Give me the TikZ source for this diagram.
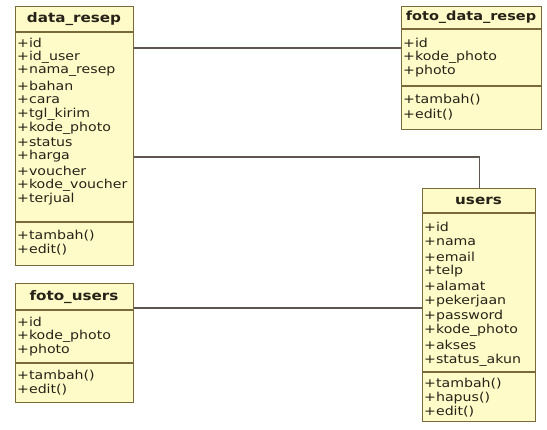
\documentclass[tikz,border=0pt]{standalone}
\usepackage{fontspec}
\newfontfamily\umlfont[FakeStretch=1.15]{DejaVu Sans}
\definecolor{classfill}{HTML}{FEFBC8}
\definecolor{classedge}{HTML}{7A6A3A}
\definecolor{linkgray}{HTML}{5E5650}
\definecolor{inktext}{HTML}{262218}
\tikzset{
  classbox/.style={draw=classedge, fill=classfill, line width=1.4pt, inner sep=0pt, anchor=north west},
  compart/.style={draw=classedge, line width=1.2pt},
  classtitle/.style={font=\umlfont\bfseries\fontsize{13.2}{15}\selectfont, text=inktext, inner sep=0pt},
  member/.style={font=\umlfont\fontsize{12.3}{14}\selectfont, text=inktext, anchor=west, inner sep=0pt},
  assoc/.style={draw=linkgray, line width=1.1pt}
}
\begin{document}
\begin{tikzpicture}[x=1pt, y=-1pt]
\useasboundingbox[fill=white] (0,0) rectangle (547,430);

% ---------- data_resep ----------
\node[classbox, minimum width=118pt, minimum height=259pt] (dr) at (15,6) {};
\draw[compart] (15,32) -- (133,32);
\draw[compart] (15,222) -- (133,222);
\node[classtitle] (drt) at (74,19) {data\_resep};
\foreach \t [count=\i] in {+id,+id\_user,+nama\_resep,+bahan,+cara,+tgl\_kirim,+kode\_photo,+status,+harga,+voucher,+kode\_voucher,+terjual}
  \node[member] (dra\i) at (17,{43+14.2*(\i-1)}) {\t};
\foreach \t [count=\i] in {+tambah(),+edit()}
  \node[member] (drm\i) at (17,{236+14*(\i-1)}) {\t};

% ---------- foto_data_resep ----------
\node[classbox, minimum width=140pt, minimum height=123pt] (fdr) at (401,6) {};
\draw[compart] (401,29) -- (541,29);
\draw[compart] (401,86) -- (541,86);
\node[classtitle, font=\umlfont\bfseries\fontsize{12.6}{15}\selectfont] (fdrt) at (471,17) {foto\_data\_resep};
\foreach \t [count=\i] in {+id,+kode\_photo,+photo}
  \node[member] (fdra\i) at (403,{43+14.2*(\i-1)}) {\t};
\foreach \t [count=\i] in {+tambah(),+edit()}
  \node[member] (fdrm\i) at (403,{100+14.5*(\i-1)}) {\t};

% ---------- users ----------
\node[classbox, minimum width=113pt, minimum height=233pt] (us) at (422,188) {};
\draw[compart] (422,213) -- (535,213);
\draw[compart] (422,372) -- (535,372);
\node[classtitle] (ust) at (478.5,201) {users};
\foreach \t [count=\i] in {+id,+nama,+email,+telp,+alamat,+pekerjaan,+password,+kode\_photo,+akses,+status\_akun}
  \node[member] (usa\i) at (424,{227+14.8*(\i-1)}) {\t};
\foreach \t [count=\i] in {+tambah(),+hapus(),+edit()}
  \node[member] (usm\i) at (424,{384+14*(\i-1)}) {\t};

% ---------- foto_users ----------
\node[classbox, minimum width=118pt, minimum height=119pt] (fu) at (15,283) {};
\draw[compart] (15,310) -- (133,310);
\draw[compart] (15,363) -- (133,363);
\node[classtitle] (fut) at (74,297) {foto\_users};
\foreach \t [count=\i] in {+id,+kode\_photo,+photo}
  \node[member] (fua\i) at (17,{322+14*(\i-1)}) {\t};
\foreach \t [count=\i] in {+tambah(),+edit()}
  \node[member] (fum\i) at (17,{376+14*(\i-1)}) {\t};

% ---------- associations ----------
\draw[assoc] (dr.east |- 0,48) -- (fdr.west |- 0,48);
\draw[assoc] (dr.east |- 0,157) -| (us.north);
\draw[assoc] (fu.east |- 0,308) -- (us.west |- 0,308);
\end{tikzpicture}
\end{document}
